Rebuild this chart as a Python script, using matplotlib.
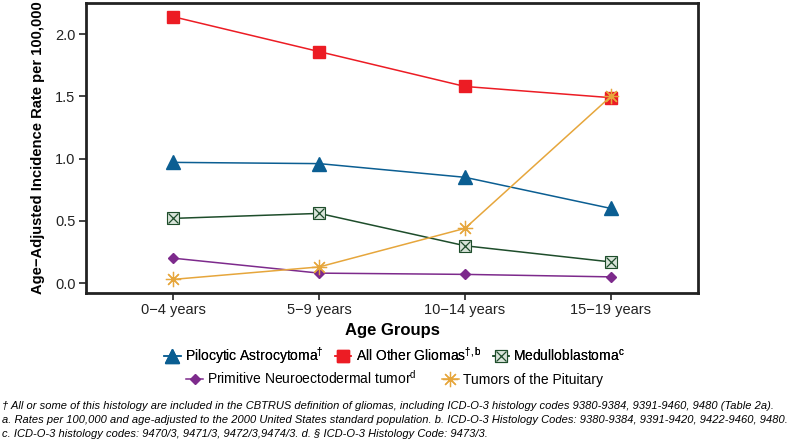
import matplotlib.pyplot as plt
from matplotlib.legend_handler import HandlerTuple

plt.rcParams['font.family'] = ['Liberation Sans', 'DejaVu Sans']
plt.rcParams['mathtext.fontset'] = 'custom'
plt.rcParams['mathtext.rm'] = 'Liberation Sans'

age_groups = ["0\u22124 years", "5\u22129 years", "10\u221214 years", "15\u221219 years"]
pilocytic = [0.97, 0.96, 0.85, 0.60]
other_gliomas = [2.14, 1.86, 1.58, 1.49]
medullo = [0.52, 0.56, 0.30, 0.17]
pnet = [0.20, 0.08, 0.07, 0.05]
pituitary = [0.03, 0.13, 0.44, 1.50]

x = list(range(len(age_groups)))

fig = plt.figure(figsize=(7.89, 4.42), dpi=100)
ax = fig.add_axes([0.109, 0.337, 0.776, 0.656])

blue = "#0b5e92"
red = "#ec1c24"
green = "#1e4d2b"
purple = "#7d2a8c"
orange = "#e6a63c"

h1, = ax.plot(x, pilocytic, "-", color=blue, lw=1.1, marker="^", ms=10, mec=blue, mfc=blue)
h2, = ax.plot(x, other_gliomas, "-", color=red, lw=1.1, marker="s", ms=9, mec=red, mfc=red)
h3a, = ax.plot(x, medullo, "-", color=green, lw=1.1, marker="s", ms=9, mec=green, mfc="#d9e4da", mew=0.8)
h3b, = ax.plot(x, medullo, "none", marker="x", ms=7, mec=green, mew=0.9)
h4, = ax.plot(x, pnet, "-", color=purple, lw=1.1, marker="D", ms=5.5, mec=purple, mfc=purple)
h5, = ax.plot(x, pituitary, "-", color=orange, lw=1.1, marker=(8, 2, 0), ms=11, mec=orange, mew=0.9)

ax.set_xlim(-0.6, 3.6)
ax.set_ylim(-0.08, 2.25)
ax.set_xticks(x)
ax.set_xticklabels(age_groups, fontsize=10.5, color="#222222")
ax.set_yticks([0.0, 0.5, 1.0, 1.5, 2.0])
ax.set_yticklabels(["0.0", "0.5", "1.0", "1.5", "2.0"], fontsize=10.5, color="#222222")
ax.tick_params(direction="out", length=5, width=1.2, color="#222222", pad=2.5)
for s in ax.spines.values():
    s.set_linewidth(2)
    s.set_color("#222222")

ax.set_xlabel("Age Groups", fontsize=12, fontweight="bold", labelpad=4)
ax.set_ylabel("Age\u2212Adjusted Incidence Rate per 100,000", fontsize=10.6, fontweight="bold", labelpad=7)

leg1 = fig.legend([h1, h2, (h3a, h3b)],
                  ["Pilocytic Astrocytoma$^{\\mathrm{\u2020}}$", "All Other Gliomas$^{\\mathrm{\u2020,b}}$",
                   "Medulloblastoma$^{\\mathrm{c}}$"],
                  loc="center", bbox_to_anchor=(0.5, 0.195), ncol=3, frameon=False, fontsize=10,
                  handlelength=1.2, handletextpad=0.3, columnspacing=0.8,
                  handler_map={tuple: HandlerTuple(ndivide=1, pad=0)})
fig.legend([h4, h5],
           ["Primitive Neuroectodermal tumor$^{\\mathrm{d}}$", "Tumors of the Pituitary"],
           loc="center", bbox_to_anchor=(0.5, 0.145), ncol=2, frameon=False, fontsize=10,
           handlelength=1.2, handletextpad=0.3, columnspacing=1.8)
fig.add_artist(leg1)

notes = [
    "\u2020 All or some of this histology are included in the CBTRUS definition of gliomas, including ICD-O-3 histology codes 9380-9384, 9391-9460, 9480 (Table 2a).",
    "a. Rates per 100,000 and age-adjusted to the 2000 United States standard population. b. ICD-O-3 Histology Codes: 9380-9384, 9391-9420, 9422-9460, 9480.",
    "c. ICD-O-3 histology codes: 9470/3, 9471/3, 9472/3,9474/3. d. \u00a7 ICD-O-3 Histology Code: 9473/3.",
]
for i, t in enumerate(notes):
    fig.text(0.002, 0.081 - i * 0.032, t, fontsize=8.0, style="italic", va="center", ha="left")

fig.savefig("out.png", dpi=100)
